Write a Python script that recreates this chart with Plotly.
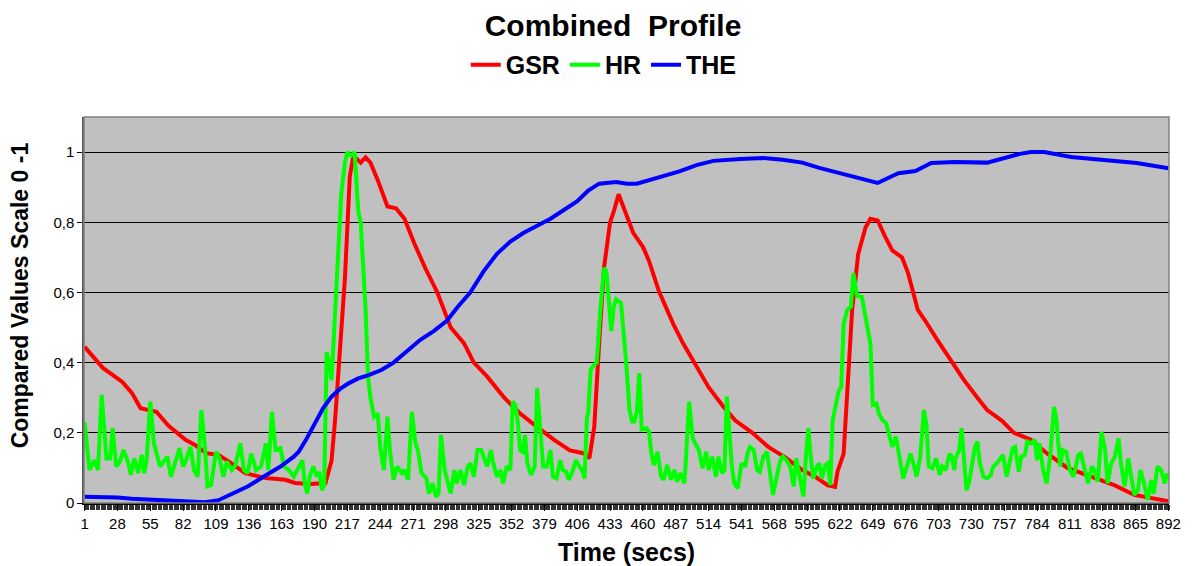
import plotly.graph_objects as go

# ---------------- data ----------------
tick_labels = list(range(1, 893, 27))
y_ticks = [0, 0.2, 0.4, 0.6, 0.8, 1.0]
y_tick_text = ["0", "0,2", "0,4", "0,6", "0,8", "1"]

gsr_t = [1, 8, 16, 24, 32, 40, 47, 60, 70, 84, 92, 101, 111, 120, 133, 150, 166, 174, 187, 199,
         204, 207, 209, 212, 215, 219, 222, 228, 232, 236, 242, 250, 257, 264, 272, 281, 291, 302,
         313, 321, 332, 346, 359, 373, 387, 400, 411, 416, 420, 424, 428, 433, 436, 440, 444, 452,
         460, 465, 473, 485, 493, 504, 514, 526, 536, 550, 563, 577, 591, 602, 612, 618, 620, 625,
         629, 632, 637, 643, 647, 653, 659, 665, 673, 678, 686, 692, 702, 714, 724, 735, 743, 755,
         765, 779, 792, 809, 825, 842, 848, 864, 880, 892]
gsr_v = [0.445, 0.415, 0.385, 0.365, 0.345, 0.313, 0.27, 0.26, 0.22, 0.18, 0.165, 0.142, 0.137,
         0.117, 0.085, 0.071, 0.066, 0.057, 0.054, 0.057, 0.12, 0.24, 0.35, 0.50, 0.64, 0.93, 0.99,
         0.97, 0.985, 0.97, 0.92, 0.845, 0.84, 0.81, 0.74, 0.67, 0.60, 0.50, 0.455, 0.40, 0.36,
         0.30, 0.255, 0.217, 0.18, 0.15, 0.142, 0.128, 0.217, 0.455, 0.67, 0.80, 0.83, 0.88, 0.845,
         0.77, 0.73, 0.69, 0.605, 0.51, 0.455, 0.39, 0.33, 0.275, 0.235, 0.20, 0.16, 0.13, 0.094,
         0.074, 0.05, 0.046, 0.09, 0.14, 0.38, 0.55, 0.71, 0.785, 0.81, 0.805, 0.76, 0.72, 0.70,
         0.655, 0.55, 0.52, 0.465, 0.40, 0.35, 0.30, 0.265, 0.235, 0.20, 0.18, 0.142, 0.10, 0.08,
         0.057, 0.05, 0.023, 0.014, 0.005]

hr_t = [1, 5, 9, 12, 15, 19, 22, 24, 27, 30, 33, 37, 39, 42, 45, 48, 50, 52, 55, 58, 63, 65, 69,
        72, 75, 79, 82, 84, 88, 91, 94, 97, 100, 102, 105, 109, 112, 115, 118, 122, 125, 129, 132,
        135, 138, 142, 146, 150, 152, 155, 158, 162, 165, 169, 173, 177, 180,
        182, 184, 186, 189, 192, 194, 196, 198, 200, 202, 204, 207, 210, 212, 215, 217, 220, 223,
        226, 228, 232, 234, 236, 239, 242, 244, 247, 250, 252, 255, 258, 262, 264, 267, 270, 273,
        275, 278, 282, 284, 287, 290, 292, 294, 297, 299, 302, 305, 307, 310, 313, 316, 318, 321,
        324, 327, 329, 332, 335, 337, 340, 343, 345, 348, 351,
        353, 355, 357, 359, 361, 363, 365, 368, 371, 373, 375, 378, 381, 384, 386, 389, 392, 394,
        397, 399, 402, 405, 407, 410, 412, 414, 415, 417, 419, 422, 425, 428, 430, 433, 434, 436,
        438, 442, 444, 446, 449, 451, 453, 455, 457, 459, 463, 465, 467, 469, 472, 475, 477, 480,
        483, 486, 488, 491, 494, 495, 498, 501, 503, 506, 509, 512, 514, 517, 520, 522, 525, 527,
        529, 531, 533, 535,
        538, 541, 544, 546, 548, 551, 554, 556, 559, 562, 565, 567, 570, 573, 575, 578, 581, 584,
        586, 589, 592, 594, 596, 598, 600, 603, 605, 607, 610, 612, 614, 616, 619, 621, 623, 625,
        628, 631, 633, 636, 640, 644, 647, 649, 652, 654, 657, 660, 663, 665, 668, 671, 674, 677,
        680, 683, 685, 688, 691, 693, 695, 698, 701, 704, 706, 709, 712,
        714, 716, 717, 720, 722, 724, 726, 728, 731, 733, 735, 737, 740, 743, 746, 748, 751, 754,
        756, 759, 762, 764, 766, 769, 771, 774, 776, 779, 782, 784, 786, 789, 792, 795, 798, 800,
        803, 805, 808, 811, 814, 816, 818, 820, 823, 826, 829, 831, 834, 837, 840, 842, 845, 848,
        851, 853, 856, 859, 861, 864, 867, 869, 872, 875, 878, 880, 883, 886, 889, 891]
hr_v = [0.23, 0.094, 0.122, 0.094, 0.308, 0.127, 0.127, 0.213, 0.104, 0.118, 0.151, 0.113, 0.08,
        0.127, 0.085, 0.137, 0.085, 0.122, 0.289, 0.17, 0.104, 0.113, 0.132, 0.075, 0.113, 0.156,
        0.104, 0.118, 0.16, 0.094, 0.075, 0.265, 0.156, 0.047, 0.051, 0.146, 0.127, 0.075, 0.118,
        0.094, 0.108, 0.17, 0.094, 0.085, 0.141, 0.094, 0.104, 0.17, 0.094, 0.26, 0.151, 0.156,
        0.104, 0.094, 0.075, 0.104, 0.122,
        0.056, 0.027, 0.075, 0.104, 0.075, 0.089, 0.037, 0.05, 0.43, 0.40, 0.35, 0.55, 0.75, 0.88,
        0.97, 1.0, 0.99, 1.0, 0.83, 0.80, 0.55, 0.36, 0.30, 0.246, 0.255, 0.16, 0.094, 0.246,
        0.151, 0.066, 0.104, 0.085, 0.094, 0.066, 0.26, 0.17, 0.151, 0.085, 0.07, 0.027, 0.056,
        0.018, 0.027, 0.194, 0.094, 0.066, 0.027, 0.094, 0.056, 0.094, 0.051, 0.104, 0.113,
        0.075, 0.151, 0.151, 0.132, 0.104, 0.151, 0.113, 0.075, 0.094, 0.056, 0.104, 0.094,
        0.289, 0.28, 0.236, 0.151, 0.146, 0.194, 0.113, 0.08, 0.104, 0.327, 0.236, 0.104, 0.104,
        0.151, 0.075, 0.07, 0.122, 0.094, 0.089, 0.066, 0.089, 0.122, 0.108, 0.094, 0.07, 0.246,
        0.255, 0.38, 0.39, 0.40, 0.55, 0.67, 0.66, 0.50, 0.49, 0.56, 0.58, 0.57, 0.50, 0.41, 0.265,
        0.232, 0.232, 0.26, 0.37, 0.21, 0.213, 0.203, 0.141, 0.108, 0.146, 0.075, 0.066, 0.108,
        0.066, 0.094, 0.061, 0.085, 0.056, 0.104, 0.289, 0.184, 0.17, 0.151, 0.099, 0.146, 0.094,
        0.132, 0.075, 0.132, 0.085, 0.094, 0.303, 0.2, 0.11, 0.056,
        0.042, 0.113, 0.104, 0.141, 0.16, 0.151, 0.094, 0.089, 0.132, 0.146, 0.075, 0.023, 0.075,
        0.122, 0.132, 0.122, 0.104, 0.047, 0.127, 0.075, 0.018, 0.132, 0.213, 0.132, 0.07, 0.104,
        0.113, 0.07, 0.108, 0.113, 0.051, 0.236, 0.284, 0.32, 0.33, 0.51, 0.55, 0.56, 0.655, 0.59,
        0.587, 0.51, 0.455, 0.28, 0.284, 0.255, 0.236, 0.227, 0.179, 0.16, 0.189, 0.122, 0.07,
        0.104, 0.141, 0.104, 0.075, 0.132, 0.265, 0.227, 0.104, 0.099, 0.127, 0.08, 0.104, 0.094,
        0.14,
        0.132, 0.094, 0.127, 0.151, 0.213, 0.132, 0.037, 0.056, 0.127, 0.16, 0.175, 0.113, 0.075,
        0.07, 0.08, 0.104, 0.113, 0.127, 0.137, 0.075, 0.127, 0.156, 0.16, 0.089, 0.132, 0.137,
        0.175, 0.17, 0.18, 0.122, 0.17, 0.094, 0.056, 0.141, 0.274, 0.236, 0.104, 0.151, 0.146,
        0.094, 0.075, 0.113, 0.137, 0.141, 0.094, 0.056, 0.104, 0.094, 0.061, 0.203, 0.151, 0.056,
        0.113, 0.132, 0.184, 0.113, 0.047, 0.127, 0.085, 0.023, 0.037, 0.094, 0.056, 0.009, 0.065,
        0.027, 0.104, 0.094, 0.056, 0.085]

the_t = [1, 28, 40, 55, 82, 100, 111, 121, 135, 148, 162, 173, 177, 183, 190, 197, 204, 211, 218,
         226, 235, 245, 255, 265, 277, 288, 299, 308, 318, 329, 340, 351, 362, 373, 384, 395, 406,
         415, 424, 438, 447, 455, 465, 477, 490, 504, 518, 540, 559, 575, 591, 605, 618, 635, 653,
         670, 684, 697, 716, 743, 757, 770, 779, 790, 812, 839, 866, 892]
the_v = [0.018, 0.016, 0.012, 0.009, 0.004, 0.002, 0.008, 0.023, 0.047, 0.075, 0.104, 0.132, 0.146,
         0.18, 0.227, 0.27, 0.303, 0.325, 0.341, 0.355, 0.365, 0.379, 0.40, 0.43, 0.465, 0.49,
         0.52, 0.56, 0.60, 0.66, 0.71, 0.745, 0.77, 0.79, 0.81, 0.835, 0.86, 0.89, 0.91, 0.915,
         0.91, 0.91, 0.92, 0.93, 0.945, 0.963, 0.975, 0.98, 0.983, 0.978, 0.97, 0.955, 0.943, 0.926,
         0.912, 0.94, 0.946, 0.969, 0.972, 0.97, 0.983, 0.995, 1.0, 1.0, 0.986, 0.977, 0.969, 0.954]

# ---------------- figure ----------------
FONT = "Arial, 'Liberation Sans', sans-serif"
LW = 4

fig = go.Figure()
fig.add_trace(go.Scatter(x=gsr_t, y=gsr_v, name="<b>GSR</b>", mode="lines",
                         line=dict(color="#FF0000", width=LW)))
fig.add_trace(go.Scatter(x=hr_t, y=hr_v, name="<b>HR</b>", mode="lines",
                         line=dict(color="#00FF00", width=LW)))
fig.add_trace(go.Scatter(x=the_t, y=the_v, name="<b>THE</b>", mode="lines",
                         line=dict(color="#0000FF", width=LW)))

# page body has an 8px margin, so the figure is sized 1185x558
W, H = 1185, 558
fig.update_layout(
    width=W, height=H,
    paper_bgcolor="white", plot_bgcolor="#C0C0C0",
    margin=dict(l=76, r=17, t=109, b=63, pad=0),
    font=dict(family=FONT, color="black"),
    title=dict(text="<b>Combined\u00a0 Profile</b>", x=605 / W, xanchor="center",
               y=1 - 17 / H, yanchor="middle", yref="container",
               font=dict(size=30, family=FONT, color="black")),
    showlegend=True,
    legend=dict(orientation="h", x=0.479, xanchor="center", y=1.135, yanchor="middle",
                font=dict(size=25, family=FONT, color="black"), bgcolor="rgba(0,0,0,0)",
                itemwidth=30, tracegroupgap=0),
    xaxis=dict(range=[0.5, 892.5], tickmode="array", tickvals=tick_labels,
               ticktext=[str(v) for v in tick_labels], showgrid=False, zeroline=False,
               showline=True, linecolor="black", linewidth=1.5, ticks="outside", ticklen=6,
               tickcolor="black", tickfont=dict(size=15, family=FONT, color="black"),
               minor=dict(dtick=1, tick0=0.5, ticks="outside", ticklen=5, tickcolor="#333333",
                          tickwidth=1, showgrid=False),
               fixedrange=True),
    yaxis=dict(range=[0, 1.1], tickmode="array", tickvals=y_ticks, ticktext=y_tick_text,
               showgrid=True, gridcolor="black", gridwidth=1, zeroline=False,
               showline=True, linecolor="#555555", linewidth=1.5, ticks="outside", ticklen=5,
               tickcolor="black", tickfont=dict(size=15, family=FONT, color="black"),
               fixedrange=True),
    annotations=[
        dict(text="<b>Time (secs)</b>", xref="paper", yref="paper", x=0.5, y=-0.127,
             xanchor="center", yanchor="middle", showarrow=False,
             font=dict(size=25, family=FONT, color="black")),
        dict(text="<b>Compared Values Scale 0 -1</b>", xref="paper", yref="paper",
             x=-0.0586, y=0.539, xanchor="center", yanchor="middle", textangle=-90,
             showarrow=False, font=dict(size=23, family=FONT, color="black")),
    ],
    shapes=[dict(type="rect", xref="paper", yref="paper", x0=0, y0=0, x1=1, y1=1,
                 line=dict(color="#808080", width=1.5), layer="above")],
)

fig.write_html("out.html")
